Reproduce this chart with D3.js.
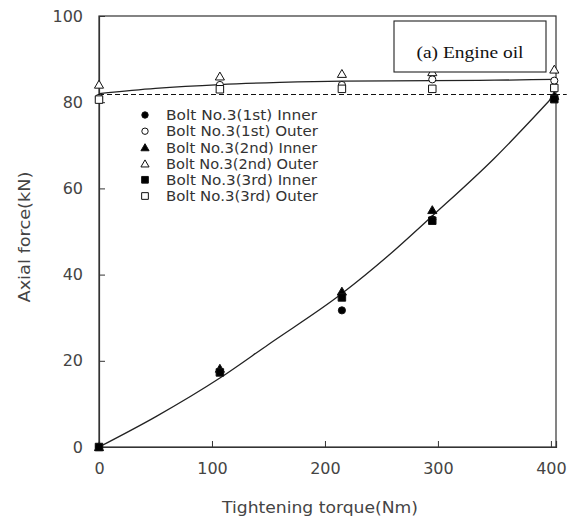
<!DOCTYPE html>
<html><head><meta charset="utf-8">
<script src="https://cdn.jsdelivr.net/npm/d3@7"></script>
<style>body{margin:0;background:#fff}</style>
</head><body><svg id="c" width="575" height="523"></svg>
<script>
// ---- data ----
const torque = [0, 107, 215, 295, 403];
const inner1st = [0, 17.5, 31.7, 52.8, 81.0];
const outer1st = [81.0, 84.0, 84.0, 85.3, 85.0];
const inner2nd = [0, 18.2, 36.1, 55.0, 81.5];
const outer2nd = [84.1, 86.0, 86.6, 87.0, 87.6];
const inner3rd = [0, 17.3, 34.7, 52.5, 80.7];
const outer3rd = [80.6, 83.0, 83.1, 83.1, 83.3];
const seriesNames = ["Bolt No.3(1st) Inner","Bolt No.3(1st) Outer","Bolt No.3(2nd) Inner","Bolt No.3(2nd) Outer","Bolt No.3(3rd) Inner","Bolt No.3(3rd) Outer"];
const innerFitT = [0, 50, 107, 150, 215, 257, 295, 350, 403];
const innerFitF = [0, 7.0, 16.0, 23.8, 35.6, 44.6, 53.6, 67.0, 81.6];
const outerFitT = [0, 50, 107, 160, 215, 295, 350, 403];
const outerFitF = [82.0, 83.2, 84.1, 84.6, 84.9, 85.0, 85.1, 85.3];
const dashedLevel = 81.8;
const xTicks = [0, 100, 200, 300, 400];
const yTicks = [0, 20, 40, 60, 80, 100];
const xTitle = "Tightening torque(Nm)";
const yTitle = "Axial force(kN)";
const panelLabel = "(a) Engine oil";

// ---- drawing ----
const svg = d3.select("#c");
const L = 99, T = 16, R = 556, B = 447;
const x = d3.scaleLinear().domain([0, 404.5]).range([L, R]);
const y = d3.scaleLinear().domain([0, 100]).range([B, T]);
const axisCol = "#333";
const tickFont = "'DejaVu Sans', sans-serif";

// frame
svg.append("rect").attr("x", L).attr("y", T).attr("width", R - L).attr("height", B - T)
  .attr("fill", "none").attr("stroke", axisCol).attr("stroke-width", 1.2);

// axes with inward ticks
const xa = svg.append("g").attr("transform", `translate(0,${B})`)
  .call(d3.axisBottom(x).tickValues(xTicks).tickSize(-6).tickPadding(14).tickFormat(d3.format("d")));
const ya = svg.append("g").attr("transform", `translate(${L},0)`)
  .call(d3.axisLeft(y).tickValues(yTicks).tickSize(-6).tickPadding(16).tickFormat(d3.format("d")));
[xa, ya].forEach(g => {
  g.select(".domain").attr("stroke", axisCol).attr("stroke-width", 1.2);
  g.selectAll(".tick line").attr("stroke", axisCol).attr("stroke-width", 1);
  g.selectAll(".tick text").attr("font-family", tickFont).attr("font-size", 16).attr("fill", "#444");
});
xa.selectAll(".tick text").attr("dy", "0.71em").attr("y", 16);

// titles
svg.append("text").attr("x", 320).attr("y", 513).attr("text-anchor", "middle")
  .attr("font-family", tickFont).attr("font-size", 16.5).attr("fill", "#444")
  .attr("textLength", 196).attr("lengthAdjust", "spacingAndGlyphs").text(xTitle);
svg.append("text").attr("transform", "translate(30,237) rotate(-90)").attr("text-anchor", "middle")
  .attr("font-family", tickFont).attr("font-size", 16.5).attr("fill", "#444")
  .attr("textLength", 131).attr("lengthAdjust", "spacingAndGlyphs").text(yTitle);

// dashed reference line (extends past the frame)
svg.append("line").attr("x1", x(0)).attr("x2", x(414)).attr("y1", y(dashedLevel)).attr("y2", y(dashedLevel))
  .attr("stroke", "#111").attr("stroke-width", 1.1).attr("stroke-dasharray", "5,3");

// fit curves
const line = d3.line().x(d => x(d[0])).y(d => y(d[1])).curve(d3.curveMonotoneX);
svg.append("path").datum(innerFitT.map((t, i) => [t, innerFitF[i]])).attr("d", line)
  .attr("fill", "none").attr("stroke", "#222").attr("stroke-width", 1.3);
svg.append("path").datum(outerFitT.map((t, i) => [t, outerFitF[i]])).attr("d", line)
  .attr("fill", "none").attr("stroke", "#222").attr("stroke-width", 1.3);

// markers
const shapes = [
  {vals: inner1st, sym: d3.symbolCircle, size: 40, fill: "#000"},
  {vals: outer1st, sym: d3.symbolCircle, size: 40, fill: "#fff"},
  {vals: inner2nd, sym: d3.symbolTriangle, size: 36, fill: "#000"},
  {vals: outer2nd, sym: d3.symbolTriangle, size: 36, fill: "#fff"},
  {vals: inner3rd, sym: d3.symbolSquare, size: 56, fill: "#000"},
  {vals: outer3rd, sym: d3.symbolSquare, size: 56, fill: "#fff"}
];
const symOffset = s => s.sym === d3.symbolTriangle ? 1 : 0;
shapes.forEach(s => {
  svg.append("g").selectAll("path").data(torque.map((t, i) => [t, s.vals[i]])).join("path")
    .attr("transform", d => `translate(${x(d[0])},${y(d[1]) + symOffset(s)})`)
    .attr("d", d3.symbol().type(s.sym).size(s.size))
    .attr("fill", s.fill).attr("stroke", "#111").attr("stroke-width", 1);
});

// panel label box (drawn over the markers)
svg.append("rect").attr("x", 394).attr("y", 21).attr("width", 152).attr("height", 51)
  .attr("fill", "#fff").attr("stroke", "#222").attr("stroke-width", 1.1);
svg.append("text").attr("x", 470).attr("y", 58).attr("text-anchor", "middle")
  .attr("font-family", "'Liberation Serif', 'DejaVu Serif', serif").attr("font-size", 16).attr("fill", "#111")
  .attr("textLength", 107).attr("lengthAdjust", "spacingAndGlyphs").text(panelLabel);

// legend
const lg = svg.append("g");
shapes.forEach((s, i) => {
  const yy = 115 + i * 16.2;
  lg.append("path").attr("transform", `translate(145,${yy + symOffset(s)})`)
    .attr("d", d3.symbol().type(s.sym).size(s.size * 0.8))
    .attr("fill", s.fill).attr("stroke", "#111").attr("stroke-width", 1);
  lg.append("text").attr("x", 166).attr("y", yy).attr("dy", "0.36em")
    .attr("font-family", tickFont).attr("font-size", 14.5).attr("fill", "#333")
    .attr("textLength", seriesNames[i].endsWith("Outer") ? 152 : 151).attr("lengthAdjust", "spacingAndGlyphs")
    .text(seriesNames[i]);
});
</script></body></html>
